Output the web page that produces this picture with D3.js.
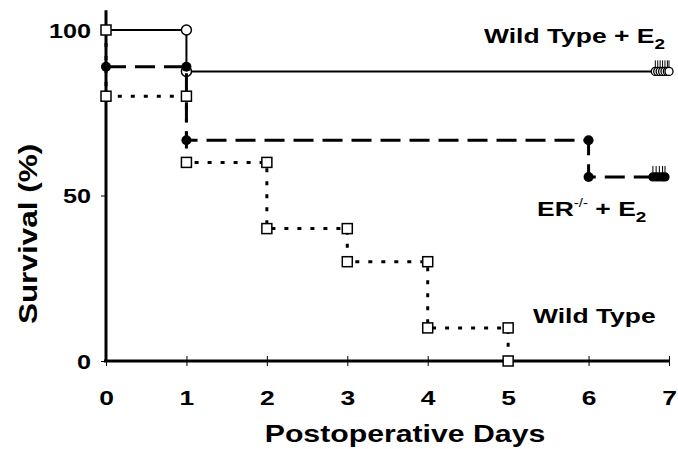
<!DOCTYPE html>
<html>
<head>
<meta charset="utf-8">
<script src="https://cdn.jsdelivr.net/npm/d3@7"></script>
<style>
  body { margin: 0; background: #fff; }
  text { font-family: "Liberation Sans", Arial, sans-serif; font-weight: bold; fill: #000; }
</style>
</head>
<body>
<div id="graph"></div>
<script>
var width = 678
var height = 449

// tick labels
var dayTicks = [0, 1, 2, 3, 4, 5, 6, 7];
var survivalTicks = [0, 50, 100];

// Kaplan-Meier steps: [day, survival % after the event]
var wtE2Steps = [[0, 100], [1, 87.5]];
var wtE2Censored = [6.83, 6.86, 6.89, 6.92, 6.95, 6.98, 7.0];

var erE2Steps = [[0, 88.9], [1, 66.7], [6, 55.6]];
var erE2Censored = [6.8, 6.84, 6.88, 6.92, 6.95];

var wtSteps = [[0, 100], [0, 80], [1, 60], [2, 40], [3, 30], [4, 10], [5, 0]];

var stretch = 1.26; // the printed type is wide

var svg = d3.select("#graph")
	.append("svg")
	.attr("width", width)
	.attr("height", height);

var x = d3.scaleLinear().domain([0, 7]).range([106, 669]);
var y = d3.scaleLinear().domain([0, 100]).range([361, 30]);

// axes
var xAxis = svg.append("g").attr("transform", "translate(0," + y(0) + ")")
	.call(d3.axisBottom(x).tickValues(dayTicks).tickFormat(d3.format("d")).tickSize(0).tickPadding(0));
xAxis.select(".domain").attr("stroke-width", 3).attr("d", "M" + (x(0) - 2) + ",0H" + x(7));
xAxis.selectAll("text").attr("font-size", 21).attr("dy", null).attr("y", 44)
	.attr("transform", "scale(" + stretch + ",1)");
xAxis.selectAll(".tick").append("line").attr("y1", -5).attr("y2", 5).attr("stroke", "#000");

var yAxis = svg.append("g").attr("transform", "translate(" + x(0) + ",0)")
	.call(d3.axisLeft(y).tickValues(survivalTicks).tickSize(5).tickPadding(0));
yAxis.select(".domain").attr("stroke-width", 3).attr("d", "M0," + (y(0) + 1) + "V" + y(106));
yAxis.selectAll("text").attr("font-size", 20).attr("dy", null).attr("y", 7)
	.attr("x", -15 / stretch)
	.attr("transform", "scale(" + stretch + ",1)");

svg.append("text")
	.attr("transform", "translate(37,234) rotate(-90) scale(" + stretch + ",1)")
	.attr("text-anchor", "middle")
	.attr("font-size", 25)
	.text("Survival (%)");

svg.append("text")
	.attr("transform", "translate(405,442) scale(" + stretch + ",1)")
	.attr("text-anchor", "middle")
	.attr("font-size", 24)
	.text("Postoperative Days");

function stepPoints(steps, endDay) {
	var pts = [[steps[0][0], steps[0][1]]];
	for (var i = 1; i < steps.length; i++) {
		pts.push([steps[i][0], steps[i - 1][1]]);
		pts.push([steps[i][0], steps[i][1]]);
	}
	if (endDay != null) pts.push([endDay, steps[steps.length - 1][1]]);
	return pts;
}

function cornerPoints(steps) {
	var pts = [];
	for (var i = 1; i < steps.length; i++) {
		pts.push([steps[i][0], steps[i - 1][1]]);
		pts.push([steps[i][0], steps[i][1]]);
	}
	return pts;
}

var line = d3.line().x((d) => x(d[0])).y((d) => y(d[1]));

function drawCensored(times, surv, fill) {
	var g = svg.append("g");
	g.selectAll("line").data(times).enter().append("line")
		.attr("x1", (d) => x(d)).attr("x2", (d) => x(d))
		.attr("y1", y(surv) - 11).attr("y2", y(surv) - 4)
		.attr("stroke", "#000").attr("stroke-width", 1);
	g.selectAll("circle").data(times).enter().append("circle")
		.attr("cx", (d) => x(d)).attr("cy", y(surv)).attr("r", 4)
		.attr("fill", fill).attr("stroke", "#000").attr("stroke-width", 1.3);
}

// Wild Type + E2
svg.append("path")
	.attr("d", line(stepPoints(wtE2Steps, 7)))
	.attr("fill", "none").attr("stroke", "#000").attr("stroke-width", 2);
svg.append("g").selectAll("circle")
	.data(cornerPoints(wtE2Steps)).enter().append("circle")
	.attr("cx", (d) => x(d[0])).attr("cy", (d) => y(d[1])).attr("r", 5)
	.attr("fill", "#fff").attr("stroke", "#000").attr("stroke-width", 1.5);
drawCensored(wtE2Censored, wtE2Steps[wtE2Steps.length - 1][1], "#fff");

// ER-/- + E2
svg.append("path")
	.attr("d", line(stepPoints(erE2Steps, 7)))
	.attr("fill", "none").attr("stroke", "#000").attr("stroke-width", 3)
	.attr("stroke-dasharray", "20,9");
svg.append("g").selectAll("circle")
	.data([erE2Steps[0]].concat(cornerPoints(erE2Steps))).enter().append("circle")
	.attr("cx", (d) => x(d[0])).attr("cy", (d) => y(d[1])).attr("r", 5)
	.attr("fill", "#000");
drawCensored(erE2Censored, erE2Steps[erE2Steps.length - 1][1], "#000");

// Wild Type
svg.append("path")
	.attr("d", line(stepPoints(wtSteps, null)))
	.attr("fill", "none").attr("stroke", "#000").attr("stroke-width", 3)
	.attr("stroke-dasharray", "4,9");
svg.append("g").selectAll("rect")
	.data(cornerPoints(wtSteps)).enter().append("rect")
	.attr("x", (d) => x(d[0]) - 5).attr("y", (d) => y(d[1]) - 5)
	.attr("width", 10).attr("height", 10)
	.attr("fill", "#fff").attr("stroke", "#000").attr("stroke-width", 1.5);

// series labels
function label(px, py) {
	return svg.append("text")
		.attr("transform", "translate(" + px + "," + py + ") scale(" + stretch + ",1)")
		.attr("font-size", 21);
}

var label1 = label(484, 43);
label1.append("tspan").text("Wild Type + E");
label1.append("tspan").attr("font-size", 15).attr("dy", 6).text("2");

var label2 = label(537, 216);
label2.append("tspan").text("ER");
label2.append("tspan").attr("font-size", 12).attr("font-weight", "normal").attr("dy", -9).text("-/-");
label2.append("tspan").attr("dy", 9).text(" + E");
label2.append("tspan").attr("font-size", 15).attr("dy", 6).text("2");

label(533, 323).text("Wild Type");
</script>
</body>
</html>
